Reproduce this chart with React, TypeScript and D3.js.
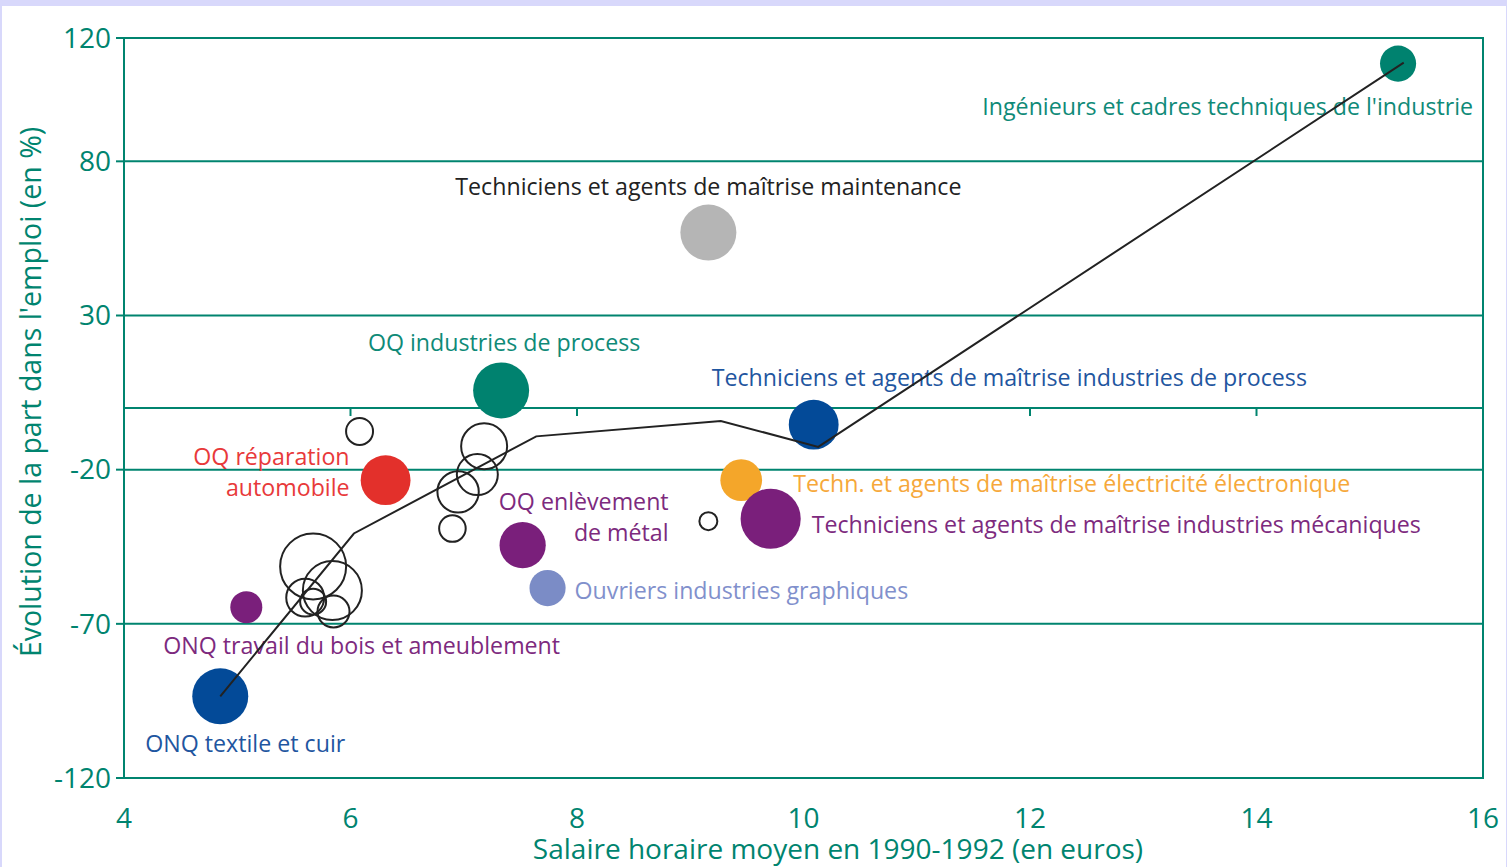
import React from 'react';
import * as d3 from 'd3';

// Professions with a coloured bubble and a label
const proNames = [
  "Ingénieurs et cadres techniques de l'industrie",
  'Techniciens et agents de maîtrise maintenance',
  'OQ industries de process',
  'Techniciens et agents de maîtrise industries de process',
  'OQ réparation automobile',
  'Techn. et agents de maîtrise électricité électronique',
  'Techniciens et agents de maîtrise industries mécaniques',
  'OQ enlèvement de métal',
  'Ouvriers industries graphiques',
  'ONQ travail du bois et ameublement',
  'ONQ textile et cuir',
];
const proSalaire = [15.25, 9.16, 7.33, 10.09, 6.31, 9.45, 9.71, 7.52, 7.74, 5.08, 4.85];
const proEvolution = [111.7, 56.9, 5.7, -5.4, -23.4, -23.4, -35.9, -44.5, -58.4, -64.6, -93.5];
const proEffectif = [30, 72, 72, 57, 57, 40, 83, 49, 30, 23.5, 72];

// Other professions (open bubbles, no label)
const autresSalaire = [6.08, 7.18, 7.12, 6.95, 6.9, 5.67, 5.84, 5.6, 5.67, 5.85, 9.16];
const autresEvolution = [-7.6, -12.4, -21.6, -27.2, -39.1, -51.4, -59.2, -61.5, -62.8, -66.0, -36.7];
const autresEffectif = [16.7, 48.6, 38.6, 39.3, 16.2, 100, 80, 33, 15.5, 23.5, 7.4];

// Trend line
const trendSalaire = [4.85, 6.03, 7.64, 9.27, 10.13, 15.3];
const trendEvolution = [-93.5, -40.7, -9.2, -4.2, -12.6, 112];

const xTicks = [4, 6, 8, 10, 12, 14, 16];
const yTicks = [120, 80, 30, -20, -70, -120];
const gridLines = [80, 30, 0, -20, -70];
const zeroTicks = [6, 8, 10, 12, 14];

// styling / label placement (offsets from the bubble centre, in px)
const proFill = ['#00826f', '#b5b5b5', '#00826f', '#034a98', '#e3302b', '#f4a62a', '#7a1f7b', '#7a1f7b', '#7b8cc6', '#7a1f7b', '#034a98'];
const proText = ['#0f8a78', '#222222', '#0f8a78', '#1f56a0', '#e8393a', '#f6a83a', '#7d2a7e', '#7d2a7e', '#8190cc', '#7d2a7e', '#1f56a0'];
const labelLayout: { dx: number; dy: number; anchor: string; lines?: string[] }[] = [
  { dx: 75, dy: 51, anchor: 'end' },
  { dx: 0, dy: -38, anchor: 'middle' },
  { dx: 3, dy: -39, anchor: 'middle' },
  { dx: -102, dy: -39, anchor: 'start' },
  { dx: -36, dy: -15, anchor: 'end', lines: ['OQ réparation', 'automobile'] },
  { dx: 52, dy: 12, anchor: 'start' },
  { dx: 41, dy: 14, anchor: 'start' },
  { dx: 146, dy: -35, anchor: 'end', lines: ['OQ enlèvement', 'de métal'] },
  { dx: 27, dy: 11, anchor: 'start' },
  { dx: -83, dy: 47, anchor: 'start' },
  { dx: -75, dy: 56, anchor: 'start' },
];

const W = 1507;
const H = 867;
const TEAL = '#00846f';
const FONT = '"Open Sans", "Noto Sans", sans-serif';

const App: React.FC = () => {
  const x = d3.scaleLinear().domain([4, 16]).range([124, 1483]);
  const y = d3.scaleLinear().domain([-120, 120]).range([778, 38]);
  const r = d3.scaleSqrt().domain([0, 100]).range([0, 33]);

  const line = d3.line<number>()
    .x((d) => x(d))
    .y((_, i) => y(trendEvolution[i]));

  const [x0, x1] = x.range();
  const [yb, yt] = y.range();

  return (
    <svg
      width={W}
      height={H}
      style={{ position: 'absolute', top: 0, left: 0, fontFamily: FONT }}
    >
      {/* page frame */}
      <rect x={0} y={0} width={W} height={H} fill="#d8d8fb" />
      <rect x={2} y={6} width={W - 3} height={H - 6} fill="#ffffff" />

      {/* grid lines */}
      {gridLines.map((g) => (
        <line key={`g${g}`} x1={x0} x2={x1} y1={y(g)} y2={y(g)} stroke={TEAL} strokeWidth={2} />
      ))}
      {zeroTicks.map((t) => (
        <line key={`zt${t}`} x1={x(t)} x2={x(t)} y1={y(0)} y2={y(0) + 8} stroke={TEAL} strokeWidth={2} />
      ))}

      {/* frame */}
      <rect x={x0} y={yt} width={x1 - x0} height={yb - yt} fill="none" stroke={TEAL} strokeWidth={2} />

      {/* y axis */}
      {yTicks.map((t) => (
        <g key={`y${t}`}>
          <line x1={x0 - 8} x2={x0} y1={y(t)} y2={y(t)} stroke={TEAL} strokeWidth={2} />
          <text x={x0 - 13} y={y(t)} dy="0.35em" textAnchor="end" fontSize={28} fill={TEAL}>
            {t}
          </text>
        </g>
      ))}

      {/* x axis labels */}
      {xTicks.map((t) => (
        <text key={`x${t}`} x={x(t)} y={828} textAnchor="middle" fontSize={28} fill={TEAL}>
          {t}
        </text>
      ))}

      <text x={838} y={859} textAnchor="middle" fontSize={28} fill={TEAL}>
        Salaire horaire moyen en 1990-1992 (en euros)
      </text>
      <text
        transform={`translate(41, ${392}) rotate(-90)`}
        textAnchor="middle"
        fontSize={28.5}
        fill={TEAL}
      >
        Évolution de la part dans l'emploi (en %)
      </text>

      {/* coloured bubbles */}
      {proNames.map((n, i) => (
        <circle key={`p${i}`} cx={x(proSalaire[i])} cy={y(proEvolution[i])} r={r(proEffectif[i])} fill={proFill[i]} />
      ))}

      {/* open bubbles */}
      {autresSalaire.map((s, i) => (
        <circle key={`a${i}`} cx={x(s)} cy={y(autresEvolution[i])} r={r(autresEffectif[i])} fill="none" stroke="#222" strokeWidth={2} />
      ))}

      {/* labels */}
      {proNames.map((n, i) => {
        const l = labelLayout[i];
        const cx = x(proSalaire[i]) + l.dx;
        const cy = y(proEvolution[i]) + l.dy;
        const lines = l.lines || [n];
        return (
          <text key={`l${i}`} x={cx} y={cy} textAnchor={l.anchor} fontSize={23.2} fill={proText[i]}>
            {lines.map((s, k) => (
              <tspan key={k} x={cx} dy={k === 0 ? 0 : 31}>
                {s}
              </tspan>
            ))}
          </text>
        );
      })}

      {/* trend line */}
      <path d={line(trendSalaire) || ''} fill="none" stroke="#222" strokeWidth={2} />
    </svg>
  );
};

export default App;
